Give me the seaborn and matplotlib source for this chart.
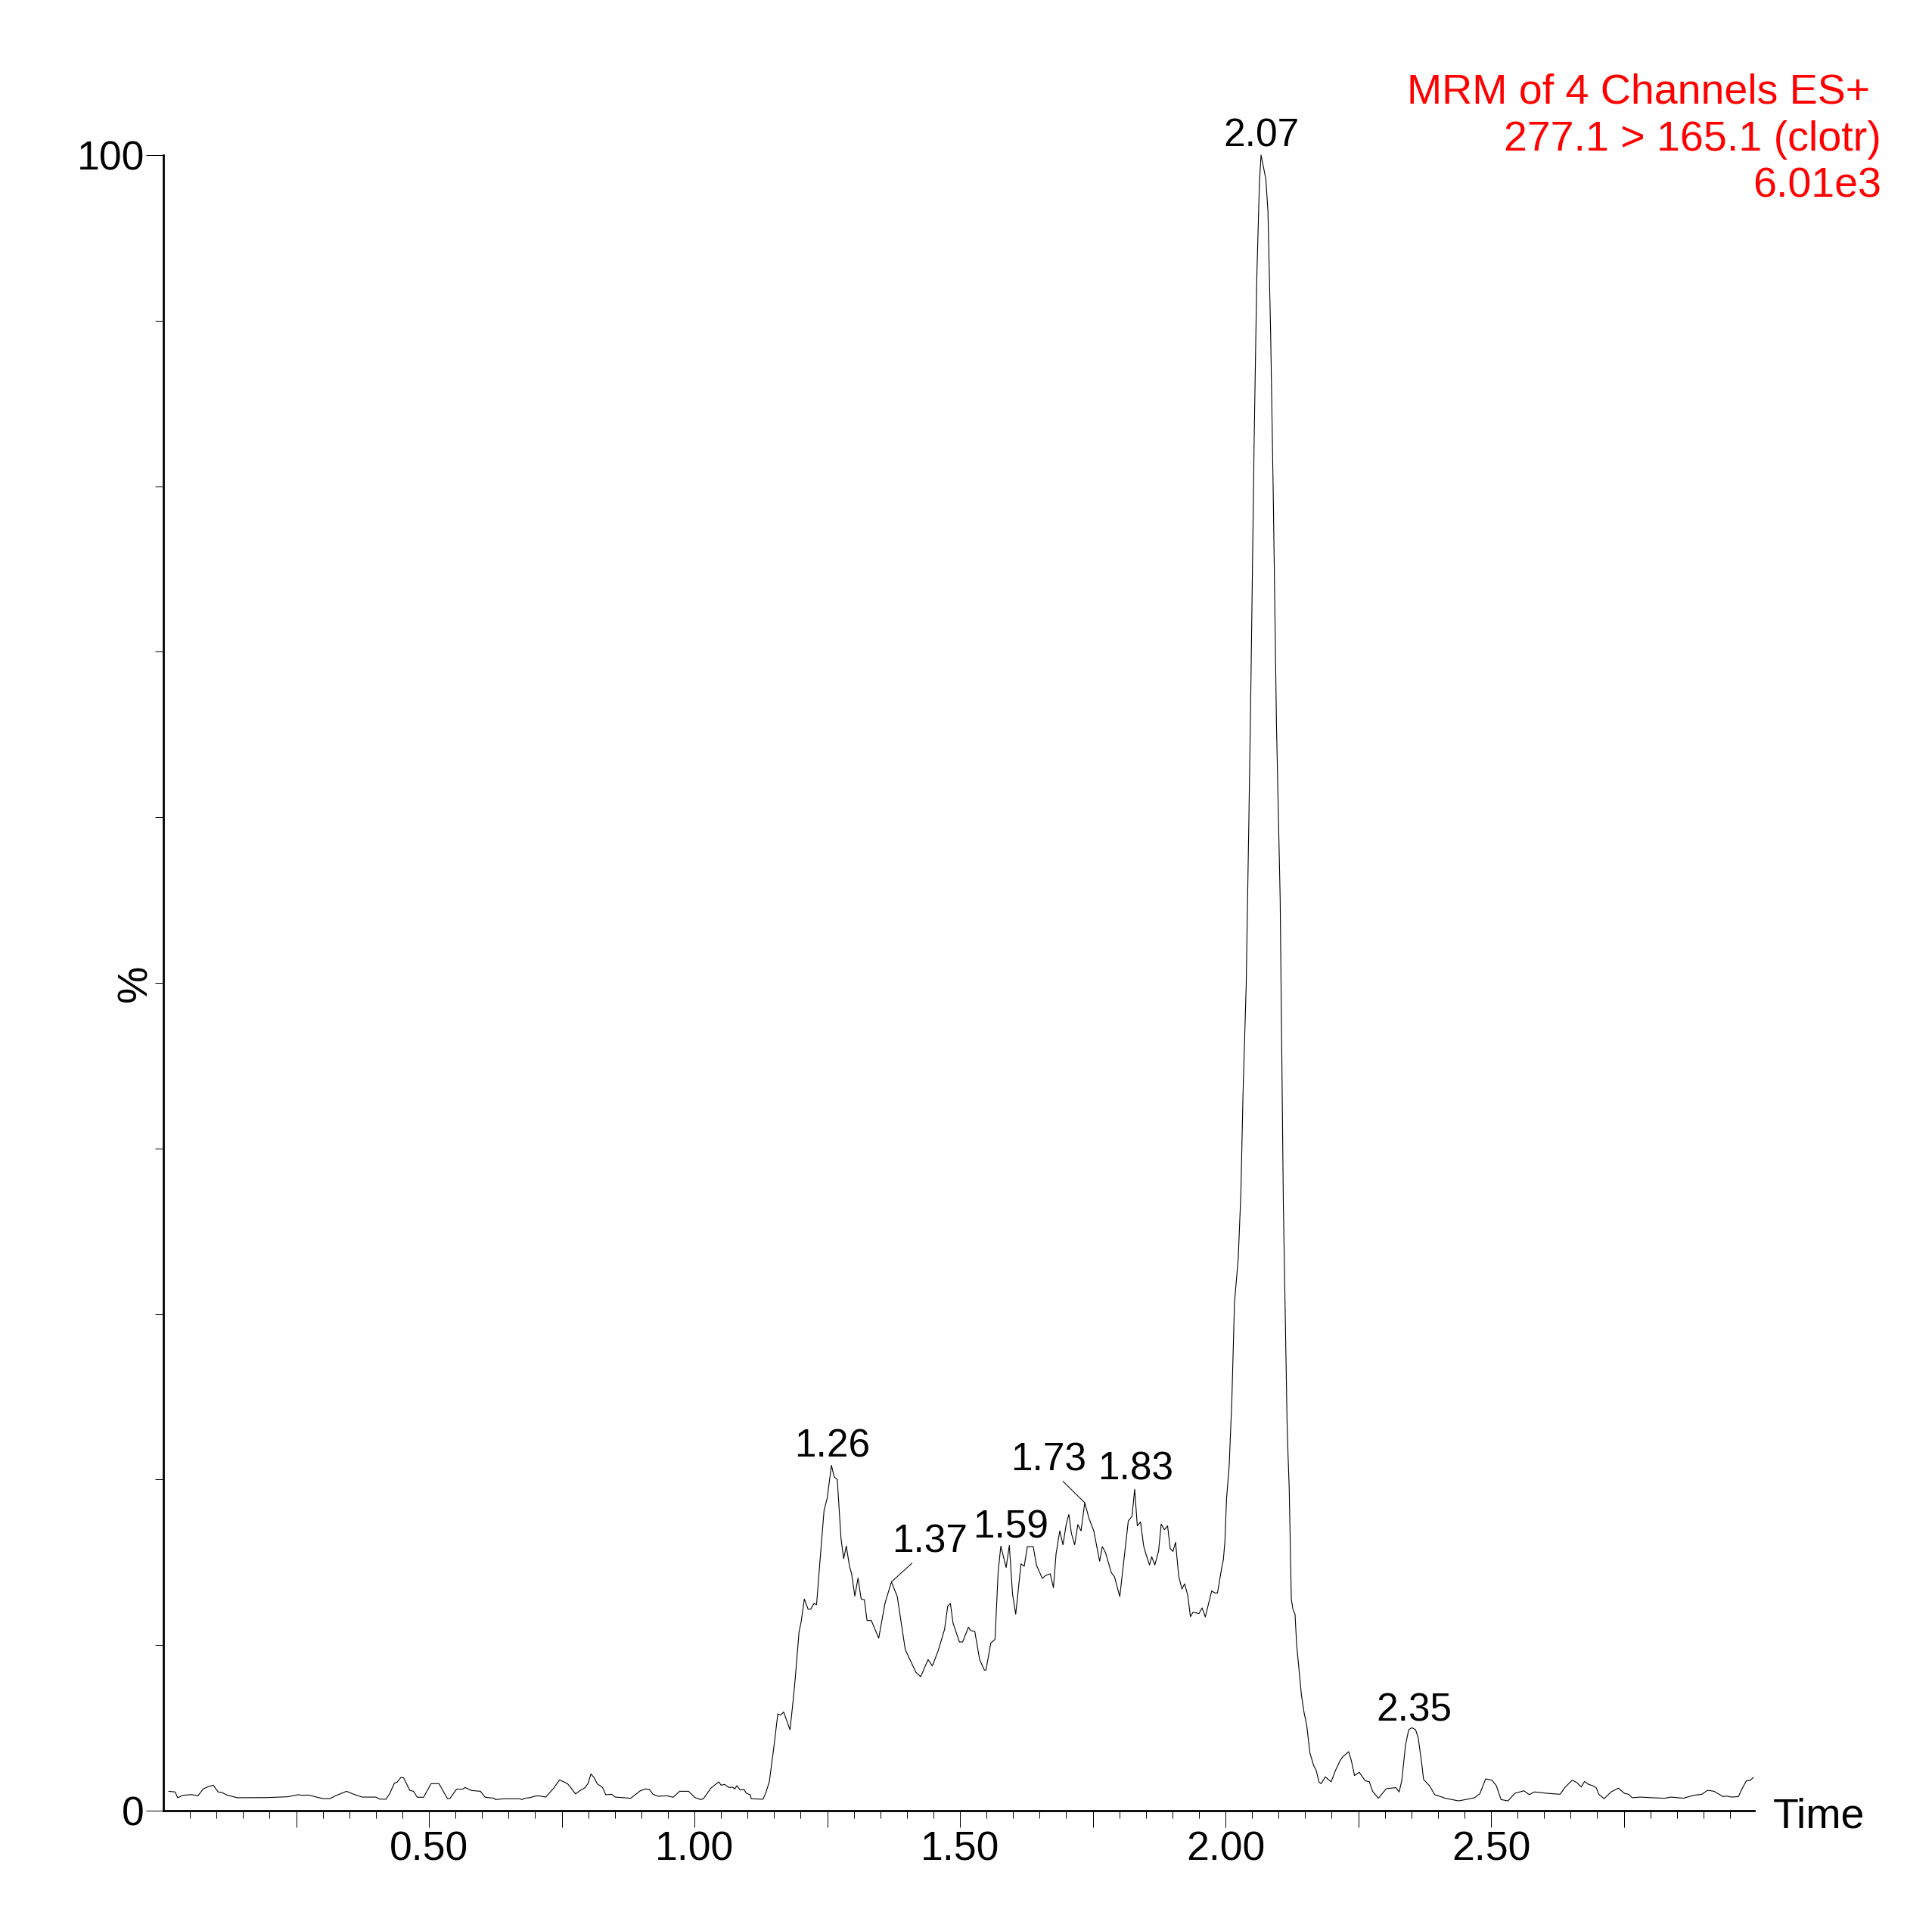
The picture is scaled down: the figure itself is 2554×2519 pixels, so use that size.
"""
MRM chromatogram (277.1 > 165.1, clotr) redrawn with seaborn.
"""

import matplotlib
matplotlib.use("Agg")
import matplotlib.pyplot as plt
import numpy as np
import pandas as pd
import seaborn as sns
from matplotlib.ticker import FixedLocator, FixedFormatter

# retention time (min) and relative abundance (%)
rt_min = [
    0.010, 0.022, 0.027, 0.037, 0.053, 0.065, 0.075, 0.082, 0.094, 0.103,
    0.110, 0.120, 0.139, 0.196, 0.234, 0.253, 0.262, 0.274, 0.286, 0.300,
    0.314, 0.324, 0.345, 0.357, 0.374, 0.400, 0.407, 0.419, 0.426, 0.435,
    0.440, 0.447, 0.452, 0.464, 0.471, 0.478, 0.490, 0.504, 0.519, 0.535,
    0.540, 0.552, 0.564, 0.568, 0.580, 0.597, 0.606, 0.623, 0.625, 0.642,
    0.671, 0.675, 0.682,
    0.690, 0.699, 0.706, 0.720, 0.735, 0.746, 0.754, 0.761, 0.768, 0.776,
    0.784, 0.794, 0.800, 0.805, 0.811, 0.817, 0.827, 0.833, 0.844, 0.851,
    0.880, 0.898, 0.908, 0.915, 0.922, 0.932, 0.948, 0.960, 0.972, 0.989,
    1.001, 1.012, 1.017, 1.031, 1.046, 1.050, 1.057, 1.065, 1.072, 1.076,
    1.080, 1.086, 1.093, 1.098, 1.105, 1.107, 1.129, 1.134,
    1.141, 1.150, 1.157, 1.162, 1.168, 1.180, 1.186, 1.190, 1.197, 1.201,
    1.207, 1.214, 1.219, 1.225, 1.230, 1.236, 1.244, 1.250, 1.258, 1.263,
    1.269, 1.276, 1.281, 1.286, 1.292, 1.296, 1.302, 1.308, 1.314, 1.320,
    1.325, 1.333, 1.347, 1.359, 1.371, 1.382, 1.397, 1.408, 1.417, 1.426,
    1.440, 1.448, 1.459, 1.471, 1.477, 1.482, 1.487, 1.499, 1.505, 1.516,
    1.520, 1.528, 1.537, 1.546, 1.549, 1.558, 1.566, 1.572, 1.577, 1.587,
    1.593, 1.599, 1.605, 1.615, 1.621, 1.627, 1.638, 1.644, 1.655, 1.661,
    1.670, 1.676, 1.681, 1.688, 1.694, 1.700, 1.705, 1.710, 1.716, 1.722,
    1.728, 1.735, 1.743, 1.752, 1.763, 1.768, 1.774, 1.785, 1.791, 1.801,
    1.810, 1.817, 1.824, 1.829, 1.834, 1.840,
    1.846, 1.850, 1.857, 1.861, 1.867, 1.874, 1.879, 1.885, 1.891, 1.896,
    1.901, 1.906, 1.912, 1.918, 1.923, 1.929, 1.934, 1.939, 1.950, 1.956,
    1.962, 1.974, 1.980, 1.985, 1.993, 1.996, 1.999,
    2.002, 2.007, 2.012, 2.017, 2.024, 2.029, 2.033, 2.039, 2.044, 2.048,
    2.054, 2.059, 2.064, 2.067, 2.076, 2.080, 2.085, 2.090, 2.096, 2.103,
    2.109, 2.116, 2.118, 2.120, 2.122, 2.124, 2.127, 2.131, 2.134, 2.139,
    2.143, 2.148, 2.153, 2.159, 2.166, 2.171, 2.176, 2.180, 2.188, 2.199,
    2.207, 2.216, 2.221, 2.232,
    2.237, 2.243, 2.252, 2.263, 2.271, 2.277, 2.288, 2.303, 2.321, 2.327,
    2.332, 2.339, 2.345, 2.351, 2.358, 2.363, 2.370, 2.373, 2.384, 2.394,
    2.414, 2.439, 2.452, 2.469, 2.479, 2.490, 2.502, 2.510, 2.519, 2.532,
    2.545, 2.562, 2.572, 2.582, 2.605, 2.630, 2.640, 2.653, 2.662, 2.670,
    2.676, 2.683, 2.691, 2.698, 2.703, 2.713, 2.726, 2.740, 2.751, 2.759,
    2.766, 2.781, 2.804, 2.827, 2.839, 2.862, 2.882, 2.897, 2.908, 2.920,
    2.937, 2.945, 2.952, 2.966, 2.972, 2.981, 2.987, 2.994,
]

abundance_pct = [
    1.17, 1.13, 0.78, 0.93, 0.97, 0.90, 1.31, 1.42, 1.54, 1.13,
    1.10, 0.94, 0.78, 0.79, 0.84, 0.96, 0.93, 0.94, 0.84, 0.73,
    0.73, 0.90, 1.17, 1.01, 0.82, 0.82, 0.70, 0.69, 1.02, 1.66,
    1.72, 2.00, 2.00, 1.23, 1.17, 0.81, 0.81, 1.63, 1.63, 0.72,
    0.75, 1.30, 1.30, 1.40, 1.22, 1.17, 0.81, 0.75, 0.67, 0.72,
    0.72, 0.67, 0.76,
    0.78, 0.87, 0.90, 0.82, 1.36, 1.86, 1.74, 1.63, 1.36, 1.01,
    1.20, 1.39, 1.66, 2.22, 2.00, 1.62, 1.40, 0.96, 0.99, 0.82,
    0.75, 1.20, 1.31, 1.28, 0.99, 0.87, 0.90, 0.81, 1.17, 1.17,
    0.79, 0.67, 0.72, 1.36, 1.74, 1.54, 1.58, 1.40, 1.42, 1.31,
    1.51, 1.25, 1.29, 1.05, 0.96, 0.72, 0.69, 1.05,
    1.74, 3.95, 5.85, 5.77, 5.96, 4.89, 6.69, 8.06, 10.80, 11.41,
    12.78, 12.17, 12.17, 12.51, 12.45, 14.91, 18.11, 18.88, 20.86, 20.17,
    20.00, 16.44, 15.22, 15.98, 14.76, 14.31, 12.96, 14.05, 12.78, 12.74,
    11.49, 11.49, 10.42, 12.55, 13.82, 12.93, 9.73, 8.97, 8.36, 8.09,
    9.13, 8.74, 9.66, 10.95, 12.36, 12.51, 11.33, 10.19, 10.19, 11.08,
    10.88, 10.82, 9.13, 8.49, 8.49, 10.12, 10.34, 14.46, 15.98, 14.69,
    16.02, 13.09, 11.87, 14.91, 14.76, 15.95, 15.95, 14.84, 14.03, 14.20,
    14.31, 13.47, 15.52, 16.90, 16.06, 17.28, 17.89, 16.74, 16.06, 17.28,
    16.90, 18.60, 17.66, 16.90, 15.07, 15.95, 15.60, 14.38, 14.13, 12.93,
    15.52, 17.50, 17.78, 19.41, 17.20, 17.44,
    15.98, 15.52, 14.84, 15.34, 14.84, 15.68, 17.31, 16.97, 17.20, 15.83,
    15.66, 16.21, 14.15, 13.39, 13.70, 13.01, 11.72, 11.99, 11.90, 12.25,
    11.70, 13.27, 13.15, 13.15, 14.69, 15.14, 16.28,
    18.85, 20.84, 24.78, 30.71, 33.34, 37.29, 43.24, 49.82, 59.69, 68.26,
    82.75, 92.63, 98.36, 100.0, 98.56, 96.60, 89.35, 79.46, 65.63, 55.08,
    36.62, 23.45, 21.31, 19.49, 16.13, 12.78, 12.17, 11.86, 10.04, 8.36,
    6.99, 5.93, 5.16, 3.49, 2.73, 2.42, 1.74, 1.63, 2.04, 1.74,
    2.42, 3.03, 3.26, 3.56,
    3.03, 2.12, 2.32, 1.81, 1.74, 1.17, 0.75, 1.33, 1.39, 1.13,
    1.81, 3.95, 4.89, 5.01, 4.89, 4.40, 2.73, 1.89, 1.51, 0.97,
    0.75, 0.59, 0.67, 0.78, 1.02, 1.92, 1.84, 1.51, 0.67, 0.59,
    1.05, 1.20, 0.97, 1.13, 1.05, 0.99, 1.43, 1.84, 1.69, 1.43,
    1.76, 1.60, 1.51, 1.39, 0.99, 0.72, 1.13, 1.36, 1.05, 0.99,
    0.78, 0.82, 0.78, 0.75, 0.82, 0.75, 0.93, 0.99, 1.23, 1.17,
    0.85, 0.88, 0.82, 0.85, 1.28, 1.81, 1.81, 2.00,
]

# apex labels written by the acquisition software
peak_labels = ["1.26", "1.37", "1.59", "1.73", "1.83", "2.07", "2.35"]
peak_times = [1.258, 1.371, 1.593, 1.735, 1.829, 2.067, 2.351]

x_tick_values = [0.25, 0.50, 0.75, 1.00, 1.25, 1.50, 1.75, 2.00, 2.25, 2.50, 2.75]
x_tick_labels = ["", "0.50", "", "1.00", "", "1.50", "", "2.00", "", "2.50", ""]
y_tick_values = [0, 100]
y_tick_labels = ["0", "100"]

header_lines = ["MRM of 4 Channels ES+ ", "277.1 > 165.1 (clotr)", "6.01e3"]


def main():
    sns.set_style("ticks")
    plt.rcParams["font.family"] = ["Liberation Sans", "DejaVu Sans"]
    plt.rcParams.update({
        "text.color": "black",
        "axes.labelcolor": "black",
        "xtick.color": "black",
        "ytick.color": "black",
        "axes.edgecolor": "black",
    })

    df = pd.DataFrame({"time": rt_min, "pct": abundance_pct})

    W, H = 2554, 2519
    fig = plt.figure(figsize=(W / 100, H / 100), dpi=100)
    ax = fig.add_axes([216 / W, 1 - 2393 / H, 2102.5 / W, 2188 / H])

    sns.lineplot(data=df, x="time", y="pct", ax=ax, color="black",
                 linewidth=0.8, estimator=None, sort=False)
    ax.lines[0].set_clip_on(False)

    ax.set_xlim(0, 2.995)
    ax.set_ylim(0, 100)
    sns.despine(ax=ax)
    for side in ("left", "bottom"):
        ax.spines[side].set_linewidth(2.0)
        ax.spines[side].set_color("black")

    # ticks: long ones carry labels (or every 0.25 on x), short ones in between
    ax.xaxis.set_major_locator(FixedLocator(x_tick_values))
    ax.xaxis.set_major_formatter(FixedFormatter(x_tick_labels))
    minor_x = [round(0.05 * i, 2) for i in range(1, 60) if i % 5 != 0]
    ax.xaxis.set_minor_locator(FixedLocator(minor_x))
    ax.yaxis.set_major_locator(FixedLocator(y_tick_values))
    ax.yaxis.set_major_formatter(FixedFormatter(y_tick_labels))
    ax.yaxis.set_minor_locator(FixedLocator(list(range(10, 100, 10))))

    ax.tick_params(which="both", bottom=True, left=True, top=False, right=False)
    ax.tick_params(axis="x", which="major", direction="out", length=15.8,
                   width=0.72, pad=3.5, labelsize=38.5, color="black",
                   labelcolor="black")
    ax.tick_params(axis="x", which="minor", direction="out", length=7.2,
                   width=0.72, color="black")
    ax.tick_params(axis="y", which="major", direction="out", length=16.5,
                   width=0.72, pad=1.5, labelsize=38.5, color="black",
                   labelcolor="black")
    ax.tick_params(axis="y", which="minor", direction="out", length=7.9,
                   width=0.72, color="black")

    ax.set_ylabel("%", fontsize=40, color="black")
    ax.yaxis.set_label_coords(-0.005, 0.5)
    ax.set_xlabel("Time", fontsize=40, ha="left", va="baseline", color="black")
    ax.xaxis.set_label_coords(1.0122, -0.0104)

    # peak annotations (offsets in points; two of them use a leader line)
    offsets = {
        "1.26": (0.7, 8.0, None),
        "1.37": (36.5, 28.0, (0.30, 0.0)),
        "1.59": (1.4, 7.2, None),
        "1.73": (-34.7, 30.7, (0.66, 0.0)),
        "1.83": (0.8, 8.9, None),
        "2.07": (0.0, 8.5, None),
        "2.35": (2.2, 6.7, None),
    }
    t_arr = np.array(rt_min)
    for lab, t in zip(peak_labels, peak_times):
        i = int(np.argmin(np.abs(t_arr - t)))
        dx, dy, rel = offsets[lab]
        kw = {}
        if rel is not None:
            kw["arrowprops"] = dict(arrowstyle="-", color="black", lw=0.75,
                                    shrinkA=0, shrinkB=0, relpos=rel)
        ax.annotate(lab, xy=(rt_min[i], abundance_pct[i]), xytext=(dx, dy),
                    textcoords="offset points", ha="center", va="baseline",
                    fontsize=37, color="black", annotation_clip=False, **kw)

    # channel header, top right
    for line, yb in zip(header_lines, [0.94573, 0.92088, 0.89639]):
        fig.text(0.9738, yb, line, ha="right", va="baseline",
                 fontsize=40, color="#ff0000")

    fig.savefig("out.png", dpi=100, facecolor="white")
    plt.close(fig)


if __name__ == "__main__":
    main()
